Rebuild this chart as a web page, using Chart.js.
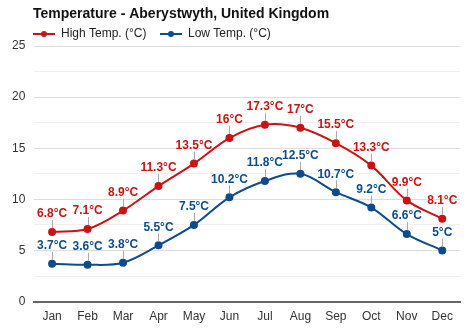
<!DOCTYPE html>
<html>
<head>
<meta charset="utf-8">
<script src="https://cdn.jsdelivr.net/npm/chart.js@4/dist/chart.umd.min.js"></script>
<style>
  html, body { margin: 0; padding: 0; background: #fff; }
  #wrap { width: 474px; height: 332px; position: relative; }
</style>
</head>
<body>
<div id="wrap"><canvas id="grafico" width="474" height="332"></canvas></div>
<script>
const meses = ["Jan", "Feb", "Mar", "Apr", "May", "Jun", "Jul", "Aug", "Sep", "Oct", "Nov", "Dec"];
const maximas = [6.8, 7.1, 8.9, 11.3, 13.5, 16, 17.3, 17, 15.5, 13.3, 9.9, 8.1];
const minimas = [3.7, 3.6, 3.8, 5.5, 7.5, 10.2, 11.8, 12.5, 10.7, 9.2, 6.6, 5];
const ticksY = [0, 5, 10, 15, 20, 25];

const titulo = "Temperature - Aberystwyth, United Kingdom";
const corAlta = "#c81414";
const corBaixa = "#0e4b8c";
const fonte = "'Liberation Sans', Arial, sans-serif";

// titulo + legenda desenhados direto no canvas
const cabecalho = {
  id: "cabecalho",
  afterDraw(chart) {
    const c = chart.ctx;
    c.save();
    c.fillStyle = "#111";
    c.font = "bold 14px " + fonte;
    c.textBaseline = "middle";
    c.fillText(titulo, 33, 14);

    const itens = [
      { x: 33, txt: "High Temp. (°C)", cor: corAlta },
      { x: 160, txt: "Low Temp. (°C)", cor: corBaixa }
    ];
    itens.forEach(it => {
      c.strokeStyle = it.cor;
      c.lineWidth = 2;
      c.beginPath();
      c.moveTo(it.x, 34);
      c.lineTo(it.x + 22, 34);
      c.stroke();
      c.fillStyle = it.cor;
      c.beginPath();
      c.arc(it.x + 11, 34, 3, 0, Math.PI * 2);
      c.fill();
      c.fillStyle = "#222";
      c.font = "12px " + fonte;
      c.fillText(it.txt, it.x + 28, 34);
    });
    c.restore();
  }
};

// rotulos de valor com a linha cinza ligando ao ponto
const rotulos = {
  id: "rotulos",
  afterDatasetsDraw(chart) {
    const c = chart.ctx;
    c.save();
    chart.data.datasets.forEach((ds, i) => {
      const meta = chart.getDatasetMeta(i);
      meta.data.forEach((pt, j) => {
        c.strokeStyle = "#aaa";
        c.lineWidth = 1;
        c.beginPath();
        c.moveTo(Math.round(pt.x) + 0.5, pt.y - 4);
        c.lineTo(Math.round(pt.x) + 0.5, pt.y - 12);
        c.stroke();
        c.fillStyle = ds.borderColor;
        c.font = "bold 12px " + fonte;
        c.textAlign = "center";
        c.textBaseline = "middle";
        c.fillText(ds.data[j] + "°C", pt.x, pt.y - 18);
      });
    });
    c.restore();
  }
};

new Chart(document.getElementById("grafico"), {
  type: "line",
  data: {
    labels: meses,
    datasets: [
      {
        label: "High Temp. (°C)",
        data: maximas,
        borderColor: corAlta,
        backgroundColor: corAlta,
        borderWidth: 2,
        pointRadius: 3,
        pointHoverRadius: 3,
        tension: 0.35
      },
      {
        label: "Low Temp. (°C)",
        data: minimas,
        borderColor: corBaixa,
        backgroundColor: corBaixa,
        borderWidth: 2,
        pointRadius: 3,
        pointHoverRadius: 3,
        tension: 0.35
      }
    ]
  },
  options: {
    responsive: false,
    animation: false,
    layout: { padding: { top: 46, right: 14, bottom: 8, left: 3 } },
    plugins: {
      legend: { display: false },
      title: { display: false },
      tooltip: { enabled: false }
    },
    scales: {
      x: {
        offset: true,
        grid: { display: false },
        border: { color: "#666", width: 2 },
        ticks: { color: "#333", font: { family: fonte, size: 12 }, padding: 0 }
      },
      y: {
        min: ticksY[0],
        max: ticksY[ticksY.length - 1],
        afterBuildTicks: axis => {
          const t = [];
          for (let v = ticksY[0]; v <= ticksY[ticksY.length - 1]; v += 2.5) t.push({ value: v });
          axis.ticks = t;
        },
        grid: {
          color: ctx => (ctx.tick.value % 5 === 0 ? "#dcdcdc" : "#efefef"),
          lineWidth: 1,
          drawTicks: false
        },
        border: { display: false },
        ticks: {
          color: "#333",
          font: { family: fonte, size: 12 },
          padding: 9,
          autoSkip: false,
          callback: v => (ticksY.includes(v) ? v : "")
        }
      }
    }
  },
  plugins: [cabecalho, rotulos]
});
</script>
</body>
</html>
